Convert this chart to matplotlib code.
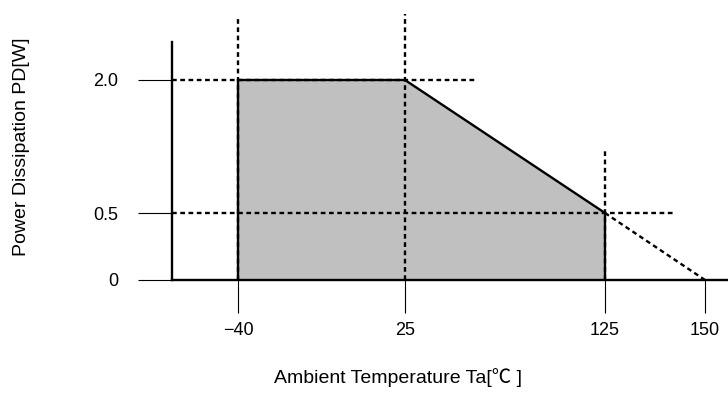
import numpy as np
import matplotlib
matplotlib.use("Agg")
import matplotlib.pyplot as plt

plt.rcParams["font.family"] = ["Liberation Sans", "Noto Sans CJK JP", "DejaVu Sans"]

# derating curve (Ta in degC, PD in W)
area_temp = [-40, -40, 25, 125, 125]
area_pd = [0.0, 2.0, 2.0, 0.5, 0.0]
ext_temp = [125, 150]
ext_pd = [0.5, 0.0]

x_ticks = [-40, 25, 125, 150]
x_labels = ["\u221240", "25", "125", "150"]
y_ticks = [0.0, 0.5, 2.0]
y_labels = ["0", "0.5", "2.0"]

# dashed guide lines: (x, y0, y1) and (y, x1)
vguides = [(-40, 0.0, 2.71), (25, 0.0, 2.74), (125, 0.0, 1.21)]
hguides = [(2.0, 60), (0.5, 142)]

# schematic (non-linear) axis: tick value -> pixel position
W, H = 728, 407
X_PIX = [238, 405, 605, 705]
Y_PIX = [H - 280, H - 213, H - 80]


def piecewise(src, dst):
    src = np.asarray(src, float)
    dst = np.asarray(dst, float)
    lo = (dst[1] - dst[0]) / (src[1] - src[0])
    hi = (dst[-1] - dst[-2]) / (src[-1] - src[-2])

    def f(v):
        v = np.asarray(v, float)
        out = np.interp(v, src, dst)
        out = np.where(v < src[0], dst[0] + (v - src[0]) * lo, out)
        out = np.where(v > src[-1], dst[-1] + (v - src[-1]) * hi, out)
        return out
    return f


x_fwd, x_inv = piecewise(x_ticks, X_PIX), piecewise(X_PIX, x_ticks)
y_fwd, y_inv = piecewise(y_ticks, Y_PIX), piecewise(Y_PIX, y_ticks)

fig = plt.figure(figsize=(W / 100, H / 100), dpi=100)
left, bottom, top = 172, H - 280, H - 12
ax = fig.add_axes([left / W, bottom / H, 1 - left / W, (top - bottom) / H])
ax.set_xscale("function", functions=(x_fwd, x_inv))
ax.set_yscale("function", functions=(y_fwd, y_inv))
ax.set_xlim(float(x_inv(left)), float(x_inv(W)))
ax.set_ylim(float(y_inv(bottom)), float(y_inv(top)))

dash = (0, (2, 1.5))
lw = 1.7
xmin = ax.get_xlim()[0]
for x, y0, y1 in vguides:
    ax.plot([x, x], [y0, y1], color="black", lw=lw, linestyle=dash, zorder=2)
for y, x1 in hguides:
    ax.plot([xmin, x1], [y, y], color="black", lw=lw, linestyle=dash, zorder=2)
ax.plot(ext_temp, ext_pd, color="black", lw=lw, linestyle=dash, zorder=2)

ax.fill(area_temp, area_pd, facecolor="#c0c0c0", edgecolor="none", zorder=1)
ax.plot(area_temp, area_pd, color="black", lw=lw, zorder=3, solid_joinstyle="miter")

for side in ("top", "right"):
    ax.spines[side].set_visible(False)
ax.spines["left"].set_linewidth(lw)
ax.spines["bottom"].set_linewidth(lw)
ax.spines["left"].set_bounds(0.0, 2.43)

ax.set_xticks(x_ticks)
ax.set_xticklabels(x_labels)
ax.set_yticks(y_ticks)
ax.set_yticklabels(y_labels)
ax.minorticks_off()
ax.tick_params(axis="x", length=24, width=0.8, pad=6, labelsize=13)
ax.tick_params(axis="y", length=24.5, width=0.8, pad=14, labelsize=13)
ax.patch.set_visible(False)

fig.text(398 / W, 1 - 378 / H, "Ambient Temperature Ta[\u2103 ]",
         ha="center", va="center", fontsize=14)
fig.text(22 / W, 1 - 147 / H, "Power Dissipation PD[W]",
         ha="center", va="center", rotation=90, fontsize=14)

fig.savefig("out.png", dpi=100)
